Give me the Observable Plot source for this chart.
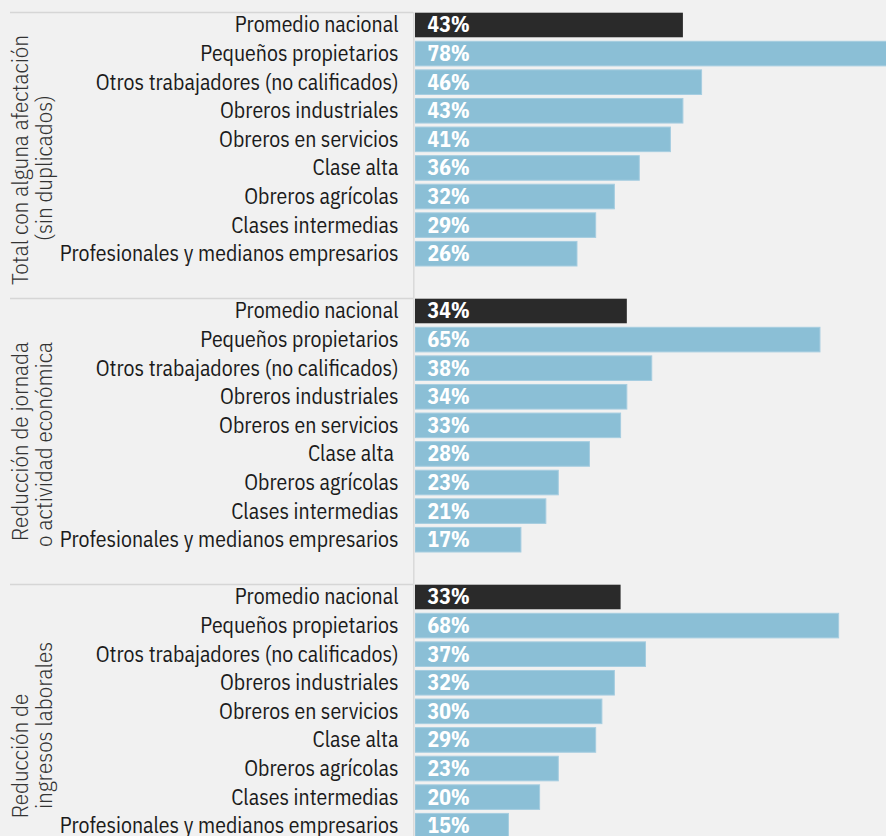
<!DOCTYPE html>
<html><head><meta charset="utf-8">
<script src="https://cdn.jsdelivr.net/npm/d3@7"></script>
<script src="https://cdn.jsdelivr.net/npm/@observablehq/plot@0.6"></script>
<style>
html,body{margin:0;padding:0;background:#f1f1f1;overflow:hidden;}
#chart svg{display:block;}
</style></head><body><div id="chart"></div>
<script>
const groups = [
  "Total con alguna afectación\n(sin duplicados)",
  "Reducción de jornada\no actividad económica",
  "Reducción de\ningresos laborales"
];
const categories = [
  "Promedio nacional",
  "Pequeños propietarios",
  "Otros trabajadores (no calificados)",
  "Obreros industriales",
  "Obreros en servicios",
  "Clase alta",
  "Obreros agrícolas",
  "Clases intermedias",
  "Profesionales y medianos empresarios"
];
const labelsTotal = categories;
const labelsJornada = categories.map(c => c === "Clase alta" ? "Clase alta " : c);
const labelsIngresos = categories;
const valuesTotal = [43, 78, 46, 43, 41, 36, 32, 29, 26];
const valuesJornada = [34, 65, 38, 34, 33, 28, 23, 21, 17];
const valuesIngresos = [33, 68, 37, 32, 30, 29, 23, 20, 15];

const allLabels = [labelsTotal, labelsJornada, labelsIngresos];
const allValues = [valuesTotal, valuesJornada, valuesIngresos];
const data = [];
groups.forEach((g, gi) => categories.forEach((c, i) => data.push({
  group: g, category: c, label: allLabels[gi][i], value: allValues[gi][i], national: i === 0
})));

// title lines, one text mark per line so each can be nudged like the original
const titleLines = [];
groups.forEach((g, gi) => g.split("\n").forEach((t, li) => titleLines.push({group: g, gi, li, text: t})));
const titleShift = [[4.5, 12.5], [0, 3], [28.5, -2]]; // per facet, per line vertical nudge (px)
const titleMarks = titleLines.map(d => Plot.text([d], {
  fy: "group", text: "text", frameAnchor: "left", rotate: -90,
  dx: d.li === 0 ? -395 : -371, dy: titleShift[d.gi][d.li],
  textAnchor: "middle", lineAnchor: "middle", fontSize: 23, fill: "#333", fontWeight: 300
}));

const font = "'IBM Plex Sans Condensed', Roboto, sans-serif";
const chart = Plot.plot({
  width: 886, height: 870,
  marginLeft: 415, marginRight: 0, marginTop: 12, marginBottom: 0,
  style: {background: "transparent", fontFamily: font, overflow: "hidden"},
  fy: {domain: groups, padding: 0, axis: null},
  y: {domain: categories, paddingInner: 0.14, paddingOuter: 0, align: 0, round: false, insetTop: 0.7, insetBottom: 32, axis: null},
  x: {domain: [0, 75.6], axis: null},
  marks: [
    Plot.ruleX([0], {dx: -1.7, stroke: "#d9d9d9", strokeWidth: 1.5}),
    Plot.ruleY(groups, {fy: d => d, y: () => categories[0], dy: -13, insetLeft: -405, insetRight: 473, stroke: "#d6d6d6", strokeWidth: 1.5}),
    Plot.barX(data.filter(d => d.national), {fy: "group", y: "category", x: "value", fill: "#2a2a2a", clip: true}),
    Plot.barX(data.filter(d => !d.national), {fy: "group", y: "category", x: "value", fill: "#8bbfd6", stroke: "#a6cde0", strokeWidth: 1, clip: true}),
    Plot.text(data, {fy: "group", y: "category", text: d => d.value + "%", frameAnchor: "left", dx: 12, textAnchor: "start", fill: "white", fontWeight: "bold", fontSize: 21.6}),
    Plot.text(data, {fy: "group", y: "category", text: "label", frameAnchor: "left", dx: -17, textAnchor: "end", fill: "#1b1b1b", fontSize: 21.7}),
    ...titleMarks
  ]
});
document.getElementById("chart").append(chart);
</script></body></html>
